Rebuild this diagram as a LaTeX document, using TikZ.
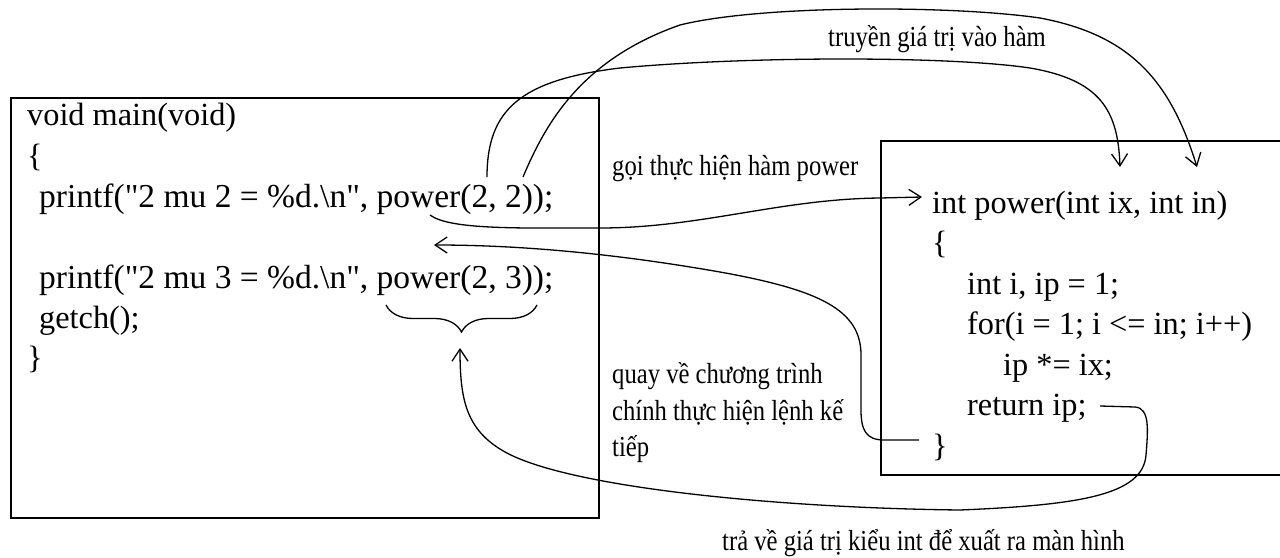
\documentclass[tikz,border=0pt]{standalone}
\usepackage{fontspec}
\setmainfont{Liberation Serif}
\newfontfamily\codefont{Liberation Serif}[Ligatures=TeXOff]
\newfontfamily\labfont{Liberation Serif}[FakeStretch=0.85]
\usetikzlibrary{arrows.meta,decorations.pathreplacing}
\begin{document}
\begin{tikzpicture}[x=1pt,y=-1pt,
  codetext/.style={anchor=base west, inner sep=0pt, font=\codefont\fontsize{32.3}{40}\selectfont},
  widecode/.style={codetext, font=\codefont\fontsize{33.5}{40}\selectfont},
  labeltext/.style={anchor=base west, inner sep=0pt, font=\labfont\fontsize{29}{37}\selectfont},
  boxframe/.style={draw, line width=2.4pt, inner sep=0pt, anchor=north west},
  flow/.style={line width=1.3pt, -{Straight Barb[length=12pt,width=16pt,line width=1.3pt]}},
  bracepath/.style={line width=1.3pt, decorate, decoration={brace, mirror, amplitude=27pt}}
]
\useasboundingbox (0,0) rectangle (1280,557);
\fill[white] (0,0) rectangle (1280,557);
\clip (0,0) rectangle (1280,557);

% boxes
\node[boxframe, minimum width=588pt, minimum height=420pt] (mainbox) at (10,97) {};
\node[boxframe, minimum width=440pt, minimum height=334pt] (powerbox) at (880,140) {};

% main code
\node[codetext] (m1) at (27,125) {void main(void)};
\node[codetext] (m2) at (27,166) {\{};
\node[widecode] (m3) at (39,207) {printf("2 mu 2 = \%d.\textbackslash n", power(2, 2));};
\node[widecode] (m4) at (39,288) {printf("2 mu 3 = \%d.\textbackslash n", power(2, 3));};
\node[codetext] (m5) at (39,328) {getch();};
\node[codetext] (m6) at (27,368) {\}};

% power code
\node[codetext] (p1) at (932,213) {int power(int ix, int in)};
\node[codetext] (p2) at (932,253) {\{};
\node[codetext] (p3) at (967,294) {int i, ip = 1;};
\node[codetext] (p4) at (967,334) {for(i = 1; i <= in; i++)};
\node[codetext] (p5) at (1003,375) {ip *= ix;};
\node[codetext] (p6) at (967,415) {return ip;};
\node[codetext] (p7) at (932,456) {\}};

% labels
\node[labeltext] (l1) at (828,46) {truyền giá trị vào hàm};
\node[labeltext] (l2) at (612,175) {gọi thực hiện hàm power};
\node[labeltext] (l3a) at (612,383) {quay về chương trình};
\node[labeltext] (l3b) at (612,420) {chính thực hiện lệnh kế};
\node[labeltext] (l3c) at (612,456) {tiếp};
\node[labeltext] (l4) at (722,550) {trả về giá trị kiểu int để xuất ra màn hình};

% connector ends
\coordinate (srcA) at (487,177);
\coordinate (dstA) at (1120,167);
\coordinate (srcB) at (523,177);
\coordinate (dstB) at (1197,167);
\coordinate (srcC) at (430,215);
\coordinate (dstC) at (922,197);
\coordinate (srcD) at (919,440);
\coordinate (dstD) at (434,245);
\coordinate (srcE) at (1100,406);
\coordinate (dstE) at (460,348);
\coordinate (brL) at (386,305);
\coordinate (brR) at (537,305);

% connectors
\draw[flow] (srcA) .. controls (487,110) and (520,80) .. (620,68)
  .. controls (750,56) and (950,56) .. (1030,68)
  .. controls (1100,80) and (1118,110) .. (dstA);
\draw[flow] (srcB) .. controls (545,125) and (580,60) .. (680,25)
  .. controls (760,5) and (950,5) .. (1040,18)
  .. controls (1130,35) and (1170,80) .. (dstB);
\draw[flow] (srcC) .. controls (450,230) and (520,228) .. (600,228)
  .. controls (700,228) and (780,199) .. (880,198) -- (dstC);
\draw[flow] (srcD) -- (884,440) .. controls (866,440) and (861,430) .. (861,410)
  -- (861,355) .. controls (861,310) and (820,290) .. (720,272)
  .. controls (640,258) and (540,245) .. (dstD);
\draw[flow] (srcE) -- (1135,407) .. controls (1150,408) and (1148,430) .. (1146,455)
  .. controls (1143,495) and (1080,505) .. (960,510)
  .. controls (780,508) and (570,488) .. (505,452)
  .. controls (466,430) and (460,400) .. (dstE);
\draw[bracepath] (brL) -- (brR);
\end{tikzpicture}
\end{document}
